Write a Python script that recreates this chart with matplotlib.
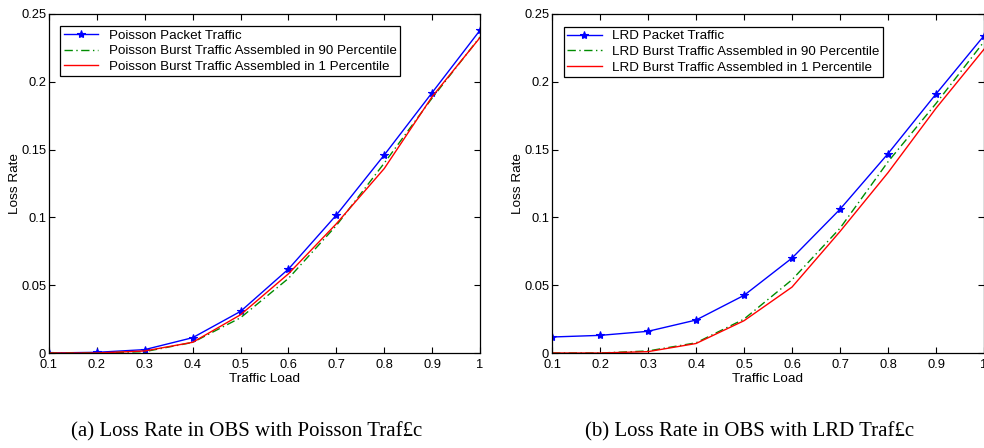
import matplotlib
matplotlib.use("Agg")
import matplotlib.pyplot as plt

plt.rcParams['font.family'] = ['Liberation Sans', 'DejaVu Sans']

load = [0.1, 0.2, 0.3, 0.4, 0.5, 0.6, 0.7, 0.8, 0.9, 1.0]

poisson_packet = [0.0, 0.0005, 0.0025, 0.0113, 0.0307, 0.0619, 0.1017, 0.146, 0.192, 0.238]
poisson_p90 = [0.0, 0.0, 0.001, 0.0078, 0.026, 0.055, 0.094, 0.140, 0.188, 0.233]
poisson_p1 = [0.0, 0.0, 0.0015, 0.0079, 0.0282, 0.0584, 0.0953, 0.136, 0.189, 0.2326]

lrd_packet = [0.0118, 0.013, 0.016, 0.0243, 0.0425, 0.070, 0.106, 0.147, 0.191, 0.234]
lrd_p90 = [0.0, 0.0, 0.0015, 0.0075, 0.025, 0.054, 0.092, 0.141, 0.184, 0.2296]
lrd_p1 = [0.0, 0.0, 0.001, 0.007, 0.0238, 0.0486, 0.0896, 0.133, 0.1805, 0.224]

labels_a = ["Poisson Packet Traffic",
            "Poisson Burst Traffic Assembled in 90 Percentile",
            "Poisson Burst Traffic Assembled in 1 Percentile"]
labels_b = ["LRD Packet Traffic",
            "LRD Burst Traffic Assembled in 90 Percentile",
            "LRD Burst Traffic Assembled in 1 Percentile"]
captions = ["(a) Loss Rate in OBS with Poisson Traf£c",
            "(b) Loss Rate in OBS with LRD Traf£c"]

xticks = [0.1, 0.2, 0.3, 0.4, 0.5, 0.6, 0.7, 0.8, 0.9, 1.0]
xticklabels = ["0.1", "0.2", "0.3", "0.4", "0.5", "0.6", "0.7", "0.8", "0.9", "1"]
yticks = [0, 0.05, 0.1, 0.15, 0.2, 0.25]
yticklabels = ["0", "0.05", "0.1", "0.15", "0.2", "0.25"]

W, H = 984, 448
fig = plt.figure(figsize=(W / 100, H / 100), dpi=100)

axes_px = [(49, 14, 480, 353), (552, 14, 984, 353)]
legend_anchor = [(0.026, 0.965), (0.027, 0.963)]
caption_px = [(247, 432), (750, 432)]

datasets = [(poisson_packet, poisson_p90, poisson_p1, labels_a),
            (lrd_packet, lrd_p90, lrd_p1, labels_b)]

for i, (packet, p90, p1, labels) in enumerate(datasets):
    x0, y0, x1, y1 = axes_px[i]
    ax = fig.add_axes([x0 / W, (H - y1) / H, (x1 - x0) / W, (y1 - y0) / H])
    ax.plot(load, packet, color='blue', lw=1.0, marker='*', ms=6,
            markeredgewidth=0.8, label=labels[0])
    ax.plot(load, p90, color=(0.0, 0.55, 0.0), lw=1.0, ls='-.',
            dashes=(6, 2.5, 1, 2.5), label=labels[1])
    ax.plot(load, p1, color='red', lw=1.0, label=labels[2])
    ax.set_xlim(0.1, 1.0)
    ax.set_ylim(0, 0.25)
    ax.set_xticks(xticks)
    ax.set_xticklabels(xticklabels)
    ax.set_yticks(yticks)
    ax.set_yticklabels(yticklabels)
    ax.tick_params(direction='in', top=True, right=True, length=4,
                   width=0.8, labelsize=9.3)
    ax.tick_params(axis='x', pad=4)
    ax.tick_params(axis='y', pad=2)
    for s in ax.spines.values():
        s.set_linewidth(0.9)
    ax.set_xlabel("Traffic Load", fontsize=9.7, labelpad=2)
    ax.set_ylabel("Loss Rate", fontsize=9.7, labelpad=0)
    leg = ax.legend(loc='upper left', bbox_to_anchor=legend_anchor[i],
                    borderaxespad=0, fontsize=9.6, frameon=True, fancybox=False,
                    edgecolor='black', framealpha=1, handlelength=2.6,
                    borderpad=0.25, labelspacing=0.25, handletextpad=0.8)
    leg.get_frame().set_linewidth(0.9)
    cx, cy = caption_px[i]
    fig.text(cx / W, (H - cy) / H, captions[i], ha='center', va='center',
             fontsize=15, family=['Liberation Serif', 'DejaVu Serif'])

fig.savefig("out.png", dpi=100)
